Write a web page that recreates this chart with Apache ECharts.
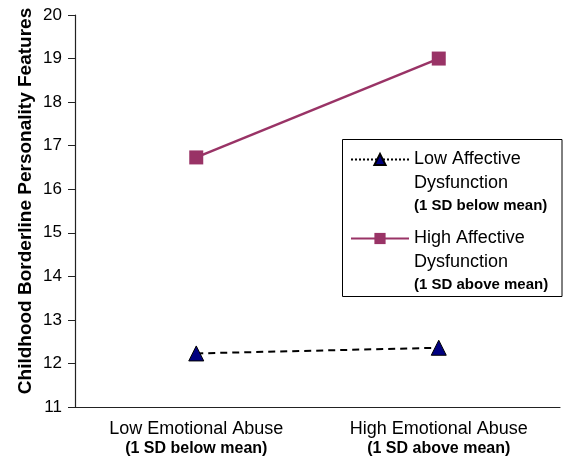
<!DOCTYPE html>
<html>
<head>
<meta charset="utf-8">
<script src="https://cdn.jsdelivr.net/npm/echarts@6/dist/echarts.min.js"></script>
<style>
  html, body { margin: 0; padding: 0; background: #fff; }
  #chart { width: 564px; height: 460px; }
</style>
</head>
<body>
<div id="chart"></div>
<script>
// data
var categories = ['Low Emotional Abuse', 'High Emotional Abuse'];
var categoryNotes = ['(1 SD below mean)', '(1 SD above mean)'];
var seriesNames = ['Low Affective Dysfunction', 'High Affective Dysfunction'];
var seriesNotes = ['(1 SD below mean)', '(1 SD above mean)'];
var lowAffective = [12.23, 12.36];
var highAffective = [16.73, 19.0];
var yMin = 11, yMax = 20, yStep = 1;

var font = '"Liberation Sans", Arial, Helvetica, sans-serif';

var myChart = echarts.init(document.getElementById('chart'));
var option = {
    animation: false,
    textStyle: { fontFamily: font },
    grid: { left: 75, right: 4, top: 15, bottom: 53 },
    // legend frame
    graphic: [{
        type: 'rect',
        shape: { x: 342.5, y: 139.5, width: 219.5, height: 157 },
        style: { fill: 'none', stroke: '#000', lineWidth: 1 }
    }],
    legend: {
        orient: 'vertical',
        left: 350, top: 150,
        padding: 0,
        itemGap: 16,
        itemWidth: 58,
        itemHeight: 14,
        data: [
            { name: seriesNames[0], lineStyle: { type: 'dotted' } },
            { name: seriesNames[1] }
        ],
        formatter: function (name) {
            var i = seriesNames.indexOf(name);
            var words = name.split(' ');
            return '{a|' + words[0] + ' ' + words[1] + '}\n{a|' + words[2] + '}\n{b|' + seriesNotes[i] + '}';
        },
        textStyle: {
            padding: [44, 0, 0, 0],
            rich: {
                a: { fontFamily: font, fontSize: 18, lineHeight: 24, color: '#000' },
                b: { fontFamily: font, fontSize: 15, fontWeight: 'bold', lineHeight: 21, color: '#000' }
            }
        }
    },
    xAxis: {
        type: 'category',
        data: categories,
        boundaryGap: true,
        axisLine: { lineStyle: { color: '#222', width: 1.2 } },
        axisTick: { inside: true, length: 5, lineStyle: { color: '#222' } },
        axisLabel: {
            margin: 12,
            formatter: function (v, i) {
                return '{a|' + v + '}\n{b|' + categoryNotes[i] + '}';
            },
            rich: {
                a: { fontFamily: font, fontSize: 18, lineHeight: 20, color: '#000' },
                b: { fontFamily: font, fontSize: 16, fontWeight: 'bold', lineHeight: 20, color: '#000' }
            }
        },
        splitLine: { show: false }
    },
    yAxis: {
        type: 'value',
        min: yMin, max: yMax, interval: yStep,
        name: 'Childhood Borderline Personality Features',
        nameLocation: 'middle',
        nameMoveOverlap: false,
        nameGap: 40,
        nameTextStyle: { fontFamily: font, fontSize: 19, fontWeight: 'bold', color: '#000', padding: [0, 0, 0, 20] },
        axisLine: { show: true, lineStyle: { color: '#222', width: 1.2 } },
        axisTick: { show: true, length: 7, lineStyle: { color: '#222' } },
        axisLabel: { fontFamily: font, fontSize: 17, color: '#000', margin: 13 },
        splitLine: { show: false }
    },
    series: [
        {
            name: seriesNames[0],
            type: 'line',
            data: lowAffective,
            symbol: 'triangle',
            symbolSize: 15,
            itemStyle: { color: '#000080', borderColor: '#000', borderWidth: 1 },
            lineStyle: { color: '#000', width: 2, type: [7, 5] }
        },
        {
            name: seriesNames[1],
            type: 'line',
            data: highAffective,
            symbol: 'rect',
            symbolSize: 14,
            itemStyle: { color: '#993366' },
            lineStyle: { color: '#993366', width: 2.5 }
        }
    ]
};

myChart.setOption(option);
window.onresize = myChart.resize;
</script>
</body>
</html>
